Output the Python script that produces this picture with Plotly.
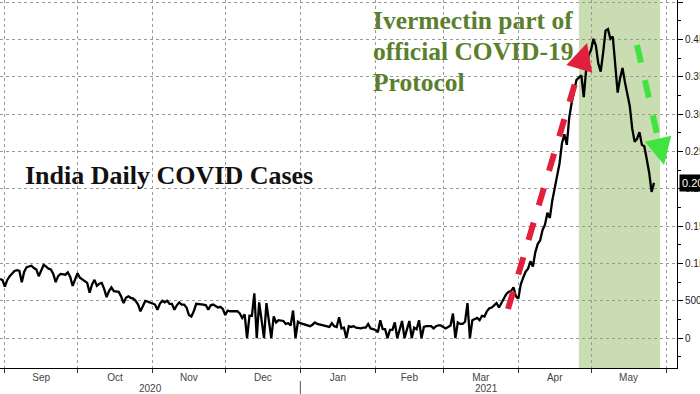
import pandas as pd
import plotly.graph_objects as go

# Daily new COVID cases in India (thousands)
aug_2020 = [79, 78]
sep_2020 = [69, 78, 83, 87, 90, 91, 90, 75, 89, 95, 96, 97, 94, 92, 83, 90, 98, 96, 93, 92,
            86, 75, 83, 86, 86, 85, 88, 82, 70, 80]
oct_2020 = [87, 81, 79, 76, 74, 61, 72, 78, 70, 73, 74, 66, 55, 63, 68, 63, 62, 62, 56, 47,
            54, 56, 54, 53, 50, 45, 36, 44, 50, 49, 48]
nov_2020 = [47, 45, 38, 46, 50, 48, 50, 46, 46, 38, 44, 48, 45, 45, 41, 31, 29, 36, 46, 46,
            46, 45, 44, 38, 44, 45, 43, 41, 42, 39]
dec_2020 = [31, 37, 36, 36, 37, 36, 33, 27, 32, 0, 30, 30, 60, 0, 48, 24, 0, 47, 23, 0,
            29, 21, 24, 24, 23, 19, 20, 17, 37, 0, 22]
jan_2021 = [20, 19, 18, 18, 16, 18, 21, 19, 18, 18, 16, 15, 15, 20, 16, 15, 28, 13, 14, 0,
            16, 15, 16, 14, 13, 13, 14, 14, 19, 13, 12]
feb_2021 = [11, 8, 24, 12, 12, 0, 11, 11, 21, 0, 11, 23, 0, 11, 23, 0, 14, 12, 24, 0,
            15, 16, 16, 16, 13, 16, 17, 17]
mar_2021 = [15, 13, 15, 17, 33, 0, 21, 19, 19, 22, 47, 0, 24, 26, 27, 24, 30, 29, 36, 40,
            41, 44, 47, 41, 47, 54, 59, 62, 63, 68, 56]
apr_2021 = [53, 72, 81, 89, 93, 103, 96, 115, 126, 131, 145, 152, 168, 161, 184, 200, 217, 234, 261, 273,
            259, 295, 315, 332, 346, 349, 352, 323, 360, 379]
may_2021 = [386, 401, 392, 368, 357, 382, 412, 414, 401, 404, 366, 329, 348, 362, 343, 326, 311, 281, 263, 267,
            276, 259, 257, 240, 222, 196, 208]

start_date = "2020-08-30"
y_tick_vals = [0, 50000, 100000, 150000, 200000, 250000, 300000, 350000, 400000, 450000]
y_tick_text = ["0", "50000", "0.1M", "0.15M", "0.2M", "0.25M", "0.3M", "0.35M", "0.4M", "0.45M"]
shade_start, shade_end = "2021-04-26", "2021-05-29 12:00"
year_labels = ["2020", "2021"]
year_label_x = ["2020-10-31", "2021-03-19"]
green_lines = ["Ivermectin part of", "official COVID-19", "Protocol"]

values_k = (aug_2020 + sep_2020 + oct_2020 + nov_2020 + dec_2020 + jan_2021
            + feb_2021 + mar_2021 + apr_2021 + may_2021)
values = [v * 1000 for v in values_k]
dates = pd.date_range(start_date, periods=len(values), freq="D")

W_PLOT, H_PLOT = 677, 368


def px(x):
    return x / W_PLOT


def py(y):
    return 1 - y / H_PLOT


fig = go.Figure()
fig.add_trace(go.Scatter(x=dates, y=values, mode="lines",
                         line=dict(color="black", width=2.3), hoverinfo="skip",
                         showlegend=False))

shapes = [
    dict(type="rect", xref="x", yref="paper", x0=shade_start, x1=shade_end, y0=0, y1=1,
         fillcolor="#c9dcb2", line=dict(width=0), layer="below"),
    # separator between years below the axis
    dict(type="line", xref="x", yref="paper", x0="2021-01-01", x1="2021-01-01",
         y0=py(381), y1=py(394), line=dict(color="#555", width=1)),
]

# dashed arrows (decorations)
red_tail, red_head = (508, 309), (587, 43)
green_tail, green_head = (637, 45), (664, 165)


def arrow(tail, head, color):
    dx, dy = head[0] - tail[0], head[1] - tail[1]
    L = (dx ** 2 + dy ** 2) ** 0.5
    ux, uy = dx / L, dy / L
    end = (head[0] - ux * 11, head[1] - uy * 11)
    shapes.append(dict(type="line", xref="paper", yref="paper",
                       x0=px(tail[0]), y0=py(tail[1]), x1=px(end[0]), y1=py(end[1]),
                       line=dict(color=color, width=6, dash="dash")))
    return dict(xref="paper", yref="paper", x=px(head[0]), y=py(head[1]), text="",
                showarrow=True, arrowhead=2, arrowsize=0.9, arrowwidth=6,
                arrowcolor=color, ax=-ux * 13, ay=-uy * 13, standoff=0)


annotations = [
    arrow(red_tail, red_head, "#e3203b"),
    arrow(green_tail, green_head, "#3fe43f"),
    dict(xref="paper", yref="paper", x=px(23), y=py(175), xanchor="left", yanchor="middle",
         text="<b>India Daily COVID Cases</b>", showarrow=False,
         font=dict(family="Liberation Serif", size=26, color="#111")),
    dict(xref="paper", yref="y", x=1, y=values[-1], xanchor="left", yanchor="middle",
         text=f"{values[-1] / 1e6:.3f}M", showarrow=False, xshift=2,
         bgcolor="black", borderpad=2, font=dict(family="Liberation Sans", size=11, color="white")),
]
for i, line in enumerate(green_lines):
    annotations.append(dict(xref="paper", yref="paper", x=px(371), y=py(20 + 31 * i),
                            xanchor="left", yanchor="middle", text=f"<b>{line}</b>",
                            showarrow=False,
                            font=dict(family="Liberation Serif", size=25.5, color="#5b7f2c")))
for lab, xx in zip(year_labels, year_label_x):
    annotations.append(dict(xref="x", yref="paper", x=xx, y=py(388), text=lab,
                            showarrow=False, yanchor="middle",
                            font=dict(family="Liberation Sans", size=10, color="#444")))

fig.update_layout(
    width=700, height=394,
    margin=dict(l=0, r=23, t=0, b=26),
    paper_bgcolor="white", plot_bgcolor="white",
    shapes=shapes, annotations=annotations,
    xaxis=dict(type="date", range=["2020-08-30", "2021-06-05 12:00"], automargin=False,
               dtick="M1", tick0="2020-09-01", tickformat="%b", ticklabelmode="period",
               showgrid=True, gridcolor="#9a9a9a", griddash="dot", gridwidth=1,
               ticks="outside", ticklen=4, tickcolor="#333", ticklabelstandoff=-4,
               showline=True, linecolor="black", linewidth=1,
               tickfont=dict(family="Liberation Sans", size=10, color="#444")),
    yaxis=dict(side="right", range=[-40000, 453000], automargin=False,
               tickvals=y_tick_vals, ticktext=y_tick_text,
               showgrid=True, gridcolor="#9a9a9a", griddash="dot", gridwidth=1,
               zeroline=False, ticks="outside", ticklen=5, tickcolor="black",
               showline=True, linecolor="black", linewidth=1,
               minor=dict(ticks="outside", ticklen=3, dtick=25000, tick0=0,
                          tickcolor="black", showgrid=False),
               tickfont=dict(family="Liberation Sans", size=10, color="#222")),
)

fig.write_html("out.html", config={"displayModeBar": False},
               post_script="document.body.style.margin='0';document.body.style.padding='0';"
                           "document.documentElement.style.overflow='hidden';")
